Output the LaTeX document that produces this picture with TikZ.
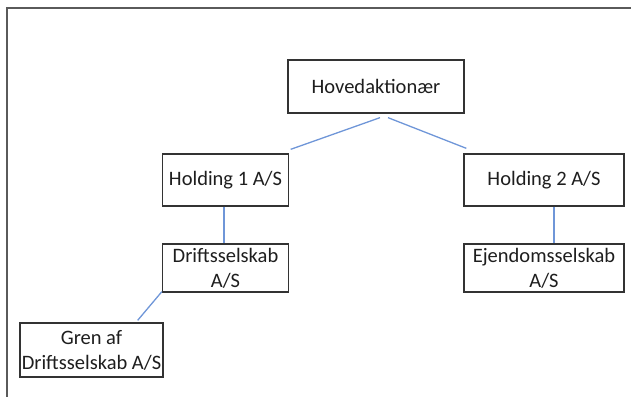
\documentclass[tikz,border=0pt]{standalone}
\usepackage{fontspec}
\setmainfont{Carlito}
\usetikzlibrary{calc}
\definecolor{linkblue}{HTML}{6F96D8}
\definecolor{boxgray}{HTML}{333333}
\definecolor{framegray}{HTML}{5A5A5A}
\definecolor{txt}{HTML}{1E1E1E}
\tikzset{
  orgbox/.style={draw=boxgray, line width=1.3pt, fill=white, inner sep=0pt, align=center,
    text=txt, font=\fontsize{20.5}{25}\selectfont},
  link/.style={draw=linkblue, line width=1.3pt},
  frameline/.style={draw=framegray, line width=1.6pt}
}
\begin{document}
\begin{tikzpicture}[x=1pt,y=-1pt]
\useasboundingbox (0,0) rectangle (631,396);
\coordinate (fbl) at (7,397);
\coordinate (ftl) at (7,8);
\coordinate (ftr) at (632,8);
\draw[frameline] (fbl) -- (ftl) -- (ftr);

\node[orgbox, minimum width=176pt, minimum height=53pt] (hoved) at (376,86.5) {Hovedaktionær};
\node[orgbox, minimum width=126pt, minimum height=52pt] (h1) at (225.5,180) {Holding 1 A/S};
\node[orgbox, minimum width=160pt, minimum height=52pt] (h2) at (544,180) {Holding 2 A/S};
\node[orgbox, minimum width=126pt, minimum height=48pt] (drift) at (225.5,268) {Driftsselskab\\A/S};
\node[orgbox, minimum width=160pt, minimum height=48pt] (ejd) at (544,268) {Ejendomsselskab\\A/S};
\node[orgbox, minimum width=143pt, minimum height=54pt] (gren) at (91.5,350) {Gren af\\Driftsselskab A/S};

\draw[link] ($(hoved.south)+(4,4)$) -- ($(h1.north east)+(1.5,-4)$);
\draw[link] ($(hoved.south)+(12,4)$) -- ($(h2.north west)+(3,-5)$);
\draw[link] ($(h1.south)+(-1.5,0)$) -- ($(drift.north)+(-1.5,0)$);
\draw[link] ($(h2.south)+(10,0)$) -- ($(ejd.north)+(10,0)$);
\draw[link] ($(drift.south west)+(0,-1)$) -- ($(gren.north east)+(-26,-2)$);
\end{tikzpicture}
\end{document}
